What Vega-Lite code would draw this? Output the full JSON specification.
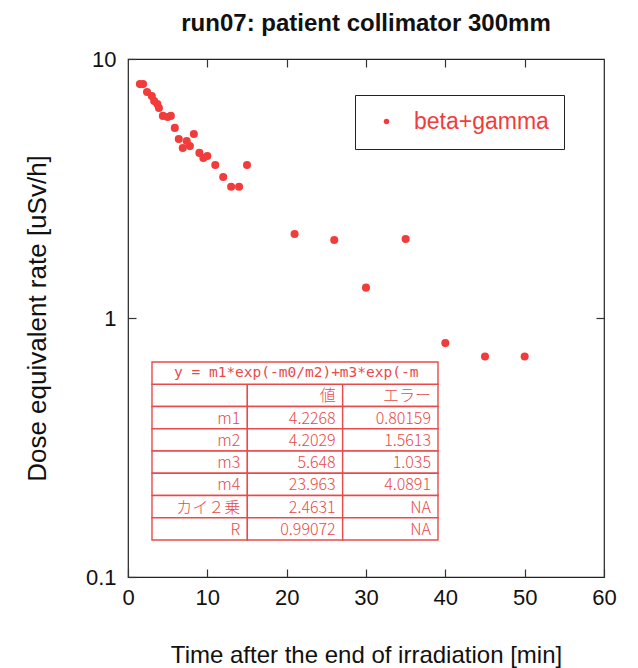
{
  "$schema": "https://vega.github.io/schema/vega-lite/v6.json",
  "width": 476,
  "height": 518,
  "autosize": {"type": "none"},
  "padding": {"left": 128, "top": 59, "right": 34, "bottom": 91},
  "background": "white",
  "config": {
    "view": {"stroke": "#222", "strokeWidth": 1.2},
    "font": "Liberation Sans",
    "axis": {"grid": false, "domain": false, "tickColor": "#333", "tickWidth": 1.2, "labelColor": "#111", "titleColor": "#111", "labelFont": "Liberation Sans", "titleFont": "Liberation Sans"}
  },
  "title": {"text": "run07: patient collimator 300mm", "fontSize": 24, "fontWeight": "bold", "font": "Liberation Sans", "color": "#111", "frame": "group", "anchor": "middle", "offset": 12},
  "resolve": {"scale": {"x": "independent", "y": "independent", "color": "independent"}},
  "layer": [
    {
      "data": {"values": [
        {"t": 1.5, "dose": 8.0, "series": "beta+gamma"},
        {"t": 1.9, "dose": 8.0, "series": "beta+gamma"},
        {"t": 2.4, "dose": 7.46, "series": "beta+gamma"},
        {"t": 3.0, "dose": 7.2, "series": "beta+gamma"},
        {"t": 3.3, "dose": 6.88, "series": "beta+gamma"},
        {"t": 3.7, "dose": 6.7, "series": "beta+gamma"},
        {"t": 3.9, "dose": 6.47, "series": "beta+gamma"},
        {"t": 4.4, "dose": 6.03, "series": "beta+gamma"},
        {"t": 5.0, "dose": 5.97, "series": "beta+gamma"},
        {"t": 5.4, "dose": 6.03, "series": "beta+gamma"},
        {"t": 5.9, "dose": 5.42, "series": "beta+gamma"},
        {"t": 6.4, "dose": 4.91, "series": "beta+gamma"},
        {"t": 6.9, "dose": 4.53, "series": "beta+gamma"},
        {"t": 7.4, "dose": 4.82, "series": "beta+gamma"},
        {"t": 7.8, "dose": 4.61, "series": "beta+gamma"},
        {"t": 8.3, "dose": 5.13, "series": "beta+gamma"},
        {"t": 9.0, "dose": 4.34, "series": "beta+gamma"},
        {"t": 9.5, "dose": 4.15, "series": "beta+gamma"},
        {"t": 10.0, "dose": 4.22, "series": "beta+gamma"},
        {"t": 11.0, "dose": 3.9, "series": "beta+gamma"},
        {"t": 12.0, "dose": 3.5, "series": "beta+gamma"},
        {"t": 13.0, "dose": 3.21, "series": "beta+gamma"},
        {"t": 14.0, "dose": 3.21, "series": "beta+gamma"},
        {"t": 15.0, "dose": 3.9, "series": "beta+gamma"},
        {"t": 21, "dose": 2.11, "series": "beta+gamma"},
        {"t": 26, "dose": 2.0, "series": "beta+gamma"},
        {"t": 30, "dose": 1.31, "series": "beta+gamma"},
        {"t": 35, "dose": 2.02, "series": "beta+gamma"},
        {"t": 40, "dose": 0.8, "series": "beta+gamma"},
        {"t": 45, "dose": 0.71, "series": "beta+gamma"},
        {"t": 50, "dose": 0.71, "series": "beta+gamma"}
      ]},
      "resolve": {"axis": {"x": "independent", "y": "independent"}},
      "layer": [
        {
          "mark": {"type": "point", "filled": true, "opacity": 1, "size": 65, "strokeWidth": 0},
          "encoding": {
            "x": {"field": "t", "type": "quantitative", "scale": {"domain": [0, 60], "nice": false},
              "axis": {"orient": "bottom", "values": [0, 10, 20, 30, 40, 50, 60], "tickSize": -8, "labelPadding": 18, "labelFontSize": 22, "labelFlush": false, "title": "Time after the end of irradiation [min]", "titleFontSize": 24, "titleFontWeight": "normal", "titlePadding": 35}},
            "y": {"field": "dose", "type": "quantitative", "scale": {"type": "log", "domain": [0.1, 10], "nice": false},
              "axis": {"orient": "left", "values": [0.1, 1, 10], "format": "~g", "tickSize": -8, "labelPadding": 20, "labelFontSize": 22, "title": "Dose equivalent rate [uSv/h]", "titleFontSize": 26, "titleFontWeight": "normal", "titlePadding": 35}},
            "color": {"field": "series", "type": "nominal", "scale": {"range": ["#f23c3c"]},
              "legend": {"orient": "none", "legendX": 227, "legendY": 36, "title": null, "strokeColor": "#222", "fillColor": "white", "padding": 15, "symbolType": "circle", "symbolSize": 30, "symbolOffset": 5, "symbolStrokeWidth": 0, "labelFontSize": 23, "labelColor": "#f23c3c", "labelOffset": 16, "labelFont": "Liberation Sans"}}
          }
        },
        {
          "mark": {"type": "point", "opacity": 0},
          "encoding": {
            "x": {"field": "t", "type": "quantitative", "axis": {"orient": "top", "values": [10, 20, 30, 40, 50], "labels": false, "tickSize": -8, "title": null}},
            "y": {"field": "dose", "type": "quantitative", "axis": {"orient": "right", "values": [1], "labels": false, "tickSize": -8, "title": null}}
          }
        }
      ]
    },
    {
      "resolve": {"scale": {"x": "independent"}},
      "layer": [
        {
          "data": {"values": [
            {"row": "header", "name": "", "value": "値", "error": "エラー"},
            {"row": "m1", "name": "m1", "value": "4.2268", "error": "0.80159"},
            {"row": "m2", "name": "m2", "value": "4.2029", "error": "1.5613"},
            {"row": "m3", "name": "m3", "value": "5.648", "error": "1.035"},
            {"row": "m4", "name": "m4", "value": "23.963", "error": "4.0891"},
            {"row": "chi", "name": "カイ２乗", "value": "2.4631", "error": "NA"},
            {"row": "R", "name": "R", "value": "0.99072", "error": "NA"}
          ]},
          "transform": [{"fold": ["name", "value", "error"], "as": ["col", "text"]}],
          "encoding": {
            "y": {"field": "row", "type": "nominal", "scale": {"domain": ["formula", "header", "m1", "m2", "m3", "m4", "chi", "R"], "range": [303, 481], "paddingInner": 0, "paddingOuter": 0}, "axis": null}
          },
          "layer": [
            {
              "mark": {"type": "rect", "fill": "white", "stroke": "#e84a4a", "strokeWidth": 1.4},
              "encoding": {
                "x": {"field": "col", "type": "nominal", "scale": {"domain": ["name", "value", "error"], "range": [24, 310], "paddingInner": 0, "paddingOuter": 0}, "axis": null}
              }
            },
            {
              "mark": {"type": "text", "align": "right", "baseline": "middle", "dx": -7, "dy": 1, "fontSize": 16, "fontWeight": 300, "color": "#e84a4a", "font": "Noto Sans CJK JP"},
              "encoding": {
                "x": {"field": "col", "type": "nominal", "bandPosition": 1, "axis": null},
                "text": {"field": "text", "type": "nominal"}
              }
            }
          ]
        },
        {
          "data": {"values": [{"row": "formula", "span": "all", "label": "y = m1*exp(-m0/m2)+m3*exp(-m"}]},
          "encoding": {
            "y": {"field": "row", "type": "nominal", "axis": null},
            "x": {"field": "span", "type": "nominal", "scale": {"domain": ["all"], "range": [24, 310], "paddingInner": 0, "paddingOuter": 0}, "axis": null}
          },
          "layer": [
            {"mark": {"type": "rect", "fill": "white", "stroke": "#e84a4a", "strokeWidth": 1.4}},
            {
              "mark": {"type": "text", "align": "left", "baseline": "middle", "dx": 22, "fontSize": 14.5, "color": "#e84a4a", "font": "DejaVu Sans Mono"},
              "encoding": {
                "x": {"field": "span", "type": "nominal", "bandPosition": 0, "axis": null},
                "text": {"field": "label", "type": "nominal"}
              }
            }
          ]
        }
      ]
    }
  ]
}
